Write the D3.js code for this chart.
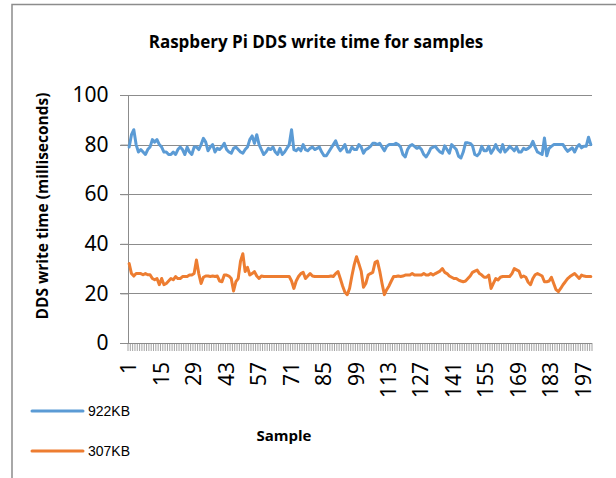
<!DOCTYPE html>
<html>
<head>
<meta charset="utf-8">
<script src="https://cdn.jsdelivr.net/npm/d3@7"></script>
<style>
    body { margin: 0; background: #fff; }
    svg { display: block; }
</style>
</head>
<body>
<div id="chart"></div>
<script>
(function () {
    // write time in ms, one value per sample
    var series922 = [
        79, 84, 86, 80, 77, 78, 77, 76, 78, 79,
        82, 81, 82, 80, 79, 77, 77, 76, 76, 77,
        76, 78, 79, 78, 76, 79, 77, 76, 79, 79,
        78, 80, 82.5, 81, 77.5, 79, 80, 77, 78.5, 78,
        79, 80.5, 78, 77, 76.5, 78.5, 79, 78, 77, 76.5,
        78, 79, 82, 83.5, 80.5, 84, 80, 78, 76, 77,
        78.5, 78, 79, 77, 76, 78.5, 76, 77, 78.5, 80,
        86, 78, 77.5, 78.5, 77.5, 80, 78, 77.5, 78.5, 79,
        78, 78.5, 79, 77, 75.5, 75.5, 77, 78.5, 80, 81.5,
        79, 77.5, 78.5, 80, 77, 77, 79, 78, 78, 80,
        79, 76.5, 78, 78.5, 79.3, 80.5, 80.5, 80, 80.5, 79,
        77.5, 79.3, 80, 80, 80, 80.5, 80, 79, 76, 75,
        78, 79.5, 80, 79.3, 78.5, 79, 78, 76, 75, 76.5,
        78.5, 79, 79.3, 78, 77, 76.5, 79.5, 78, 76.5, 80,
        79, 78, 75.3, 74.6, 77, 80.7, 80.7, 80.5, 79.5, 76,
        75.5, 76.5, 79.3, 77.5, 77.5, 79.3, 76.5, 78, 80, 78,
        77, 80, 77, 78, 79.3, 78.5, 77.5, 79, 77, 77,
        78.5, 78, 78.5, 79.3, 81.3, 79, 77, 76.5, 76, 82.7,
        75.5, 78.5, 79.3, 80, 80, 80, 80, 80, 78.5, 77.3,
        78, 78.7, 77, 79, 80, 78.7, 79.3, 79.3, 83, 80
    ];
    var series307 = [
        32, 28, 27, 28, 28, 28, 27.5, 28, 27.5, 27.5,
        26, 25.5, 26, 23.5, 26, 23.5, 24, 25, 26, 25.5,
        26.8, 26, 26, 26.8, 26.8, 26.8, 27.4, 27.4, 28, 33.5,
        28, 24, 26.5, 27, 27, 26.8, 27, 26.8, 27, 25,
        24.7, 27.4, 27.4, 27, 26, 21, 24.7, 26, 33, 36,
        28.8, 30.5, 27.4, 28, 28.8, 27, 26, 27, 26.8, 26.8,
        26.8, 26.8, 26.8, 26.8, 26.8, 26.8, 26.8, 26.8, 26.8, 26.8,
        25, 22, 25, 26.8, 28, 28.5, 26, 27, 28, 27,
        26.8, 26.8, 26.8, 26.8, 26.8, 26.8, 26.8, 27, 26.8, 28,
        28.8, 26, 23, 20.5, 19.5, 22, 27, 31.5, 34.8, 32,
        29, 22.5, 24, 27.4, 28, 28.5, 32.5, 33, 29, 24,
        19.5, 21.5, 23, 25, 26.8, 26.8, 27, 26.8, 27, 27.4,
        27.4, 27.4, 28, 27.4, 27.4, 27.4, 27.4, 28, 27.4, 27.4,
        28, 27.4, 28, 28.5, 29, 30, 28.5, 28, 27, 26.5,
        26, 26, 25.4, 25, 24.7, 25, 26, 27, 28.5, 29,
        29.4, 28, 27.4, 26.5, 26.5, 27.4, 22, 24, 26, 25.4,
        26.5, 26.8, 26.8, 26.8, 26.8, 28, 30, 29.5, 29, 26.5,
        27, 26.5, 24.5, 23.5, 26, 27.5, 28, 27.5, 27, 24.7,
        24.7, 25, 26.5, 24, 21.5, 20.7, 22, 23.5, 24.7, 26,
        26.8, 27.4, 28, 27, 26, 27.4, 27, 26.8, 26.8, 26.8
    ];
    var seriesNames = ['922KB', '307KB'];
    var seriesColors = ['#5b9bd5', '#ed7d31'];
    var yTicks = [0, 20, 40, 60, 80, 100];
    var xLabels = [1, 15, 29, 43, 57, 71, 85, 99, 113, 127, 141, 155, 169, 183, 197];

    var width = 616;
    var height = 478;
    var margin = { left: 128, right: 24, top: 95, bottom: 135 };

    var samples = d3.range(1, series922.length + 1);
    var allSeries = [series922, series307];

    var svg = d3.select('#chart')
        .append('svg')
        .attr('width', width)
        .attr('height', height);

    // outer frame (only top and left edges show)
    svg.append('path')
        .attr('d', 'M12,' + height + 'V4.5H' + width)
        .attr('fill', 'none')
        .attr('stroke', '#8c8c8c')
        .attr('stroke-width', 1.5);

    var x = d3.scaleBand()
        .domain(samples)
        .range([margin.left, width - margin.right])
        .padding(0);

    var y = d3.scaleLinear()
        .domain([0, 100])
        .range([height - margin.bottom, margin.top]);

    // gridlines
    svg.append('g')
        .selectAll('line')
        .data(yTicks)
        .enter()
        .append('line')
        .attr('x1', margin.left - 8)
        .attr('x2', width - margin.right)
        .attr('y1', function(d) { return Math.round(y(d)) + 0.5; })
        .attr('y2', function(d) { return Math.round(y(d)) + 0.5; })
        .attr('stroke', '#8c8c8c')
        .attr('stroke-width', 1);

    // y axis
    var yAxis = svg.append('g')
        .attr('transform', 'translate(' + (margin.left + 0.5) + ',0)')
        .call(d3.axisLeft(y).tickValues(yTicks).tickSize(8).tickPadding(12));
    yAxis.selectAll('line, path').attr('stroke', '#8c8c8c');
    yAxis.select('.domain').attr('d', 'M0,' + y(100) + 'V' + y(0));
    yAxis.selectAll('text')
        .attr('font-family', '"Noto Sans", sans-serif')
        .attr('font-size', 21)
        .attr('fill', '#000');

    // x axis: a minor tick at every category edge
    var edges = samples.map(function(d) { return x(d); }).concat([x.range()[1]]);
    svg.append('g')
        .selectAll('line')
        .data(edges)
        .enter()
        .append('line')
        .attr('x1', function(d) { return d; })
        .attr('x2', function(d) { return d; })
        .attr('y1', y(0))
        .attr('y2', y(0) + 8)
        .attr('stroke', '#8c8c8c')
        .attr('stroke-width', 0.8);

    svg.append('g')
        .selectAll('text')
        .data(xLabels)
        .enter()
        .append('text')
        .attr('transform', function(d) {
            return 'translate(' + (x(d) + x.bandwidth() / 2 + 7) + ',' + (y(0) + 19) + ') rotate(-90)';
        })
        .attr('text-anchor', 'end')
        .attr('font-family', '"Noto Sans", sans-serif')
        .attr('font-size', 21)
        .text(function(d) { return d; });

    // lines
    var line = d3.line()
        .x(function(d, i) { return x(samples[i]) + x.bandwidth() / 2; })
        .y(function(d) { return y(d); });

    svg.append('g')
        .selectAll('path')
        .data(allSeries)
        .enter()
        .append('path')
        .attr('d', line)
        .attr('fill', 'none')
        .attr('stroke', function(d, i) { return seriesColors[i]; })
        .attr('stroke-width', 3)
        .attr('stroke-linejoin', 'round')
        .attr('stroke-linecap', 'round');

    // titles
    svg.append('text')
        .attr('x', 316)
        .attr('y', 48)
        .attr('text-anchor', 'middle')
        .attr('font-family', '"Open Sans", sans-serif')
        .attr('font-weight', 'bold')
        .attr('font-size', 17)
        .text('Raspbery Pi DDS write time for samples');

    svg.append('text')
        .attr('transform', 'translate(48,' + 206 + ') rotate(-90)')
        .attr('text-anchor', 'middle')
        .attr('font-family', '"Open Sans", sans-serif')
        .attr('font-weight', 'bold')
        .attr('font-size', 15.5)
        .text('DDS  write time (milliseconds)');

    svg.append('text')
        .attr('x', 284)
        .attr('y', 441)
        .attr('text-anchor', 'middle')
        .attr('font-family', '"Open Sans", sans-serif')
        .attr('font-weight', 'bold')
        .attr('font-size', 15)
        .text('Sample');

    // legend
    var legend = svg.selectAll('.legend')
        .data(seriesNames)
        .enter()
        .append('g')
        .attr('class', 'legend')
        .attr('transform', function(d, i) { return 'translate(32,' + (411 + i * 40) + ')'; });

    legend.append('line')
        .attr('x1', 0)
        .attr('x2', 51)
        .attr('stroke', function(d, i) { return seriesColors[i]; })
        .attr('stroke-width', 3)
        .attr('stroke-linecap', 'round');

    legend.append('text')
        .attr('x', 56)
        .attr('y', 5)
        .attr('font-family', '"Liberation Sans Narrow", "Liberation Sans", sans-serif')
        .attr('font-size', 14)
        .text(function(d) { return d; });
})();
</script>
</body>
</html>
